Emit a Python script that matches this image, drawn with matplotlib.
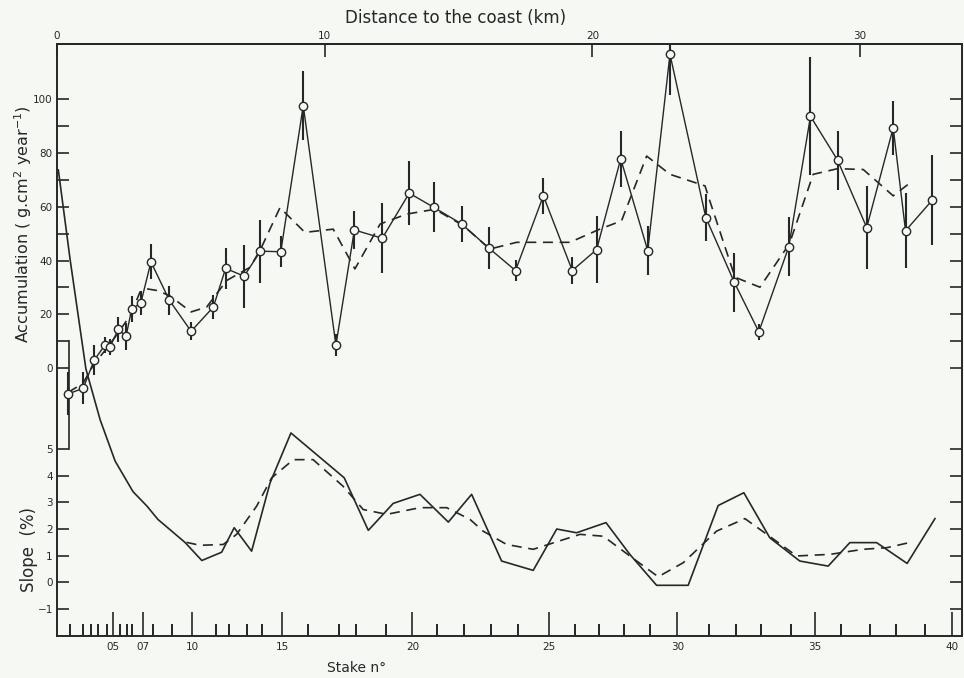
import matplotlib.pyplot as plt

plt.rcParams['font.family'] = ['DejaVu Sans']

# stake positions (km from the coast) with measured accumulation and error
dist_km = [0.42, 0.98, 1.39, 1.79, 1.98, 2.29, 2.58, 2.79, 3.13, 3.51, 4.20,
           5.01, 5.84, 6.30, 6.99, 7.60, 8.36, 9.20, 10.42, 11.11, 12.15,
           13.16, 14.08, 15.12, 16.14, 17.13, 18.17, 19.25, 20.16, 21.06, 22.07,
           22.90, 24.24, 25.30, 26.22, 27.34, 28.15, 29.16, 30.25, 31.24, 31.70, 32.70]
accum = [-9.6, -7.5, 3.0, 8.5, 7.9, 14.4, 11.9, 21.9, 24.2, 39.5, 25.2,
         13.7, 22.7, 37.1, 34.2, 43.5, 43.3, 97.7, 8.5, 51.4, 48.3,
         65.1, 59.8, 53.6, 44.6, 36.3, 64.1, 36.3, 44.1, 77.9, 43.7,
         116.8, 56.0, 32.0, 13.5, 45.2, 93.7, 77.4, 52.3, 89.4, 51.1, 62.5]
accum_err = [8, 6, 5.5, 3, 3, 4.6, 5, 4.8, 4.5, 6.5, 5.3,
             3.4, 4.6, 7.7, 11.7, 11.7, 5.8, 13, 4, 7, 13,
             11.8, 9.3, 6.7, 7.9, 4, 6.8, 5, 12.5, 10.5, 9,
             15, 8.6, 11, 3, 11, 22, 11, 15.6, 10, 14, 16.7]

# smoothed accumulation (dashed)
accum_smooth_km = [0.42, 0.97, 1.38, 1.79, 2.28, 2.76, 3.10, 3.35, 3.72, 4.20, 5.01,
                   5.59, 6.34, 7.21, 7.61, 8.33, 9.26, 10.32, 11.13, 12.07, 13.06,
                   14.12, 15.18, 16.17, 17.17, 18.17, 19.16, 20.28, 21.09, 22.03, 22.90,
                   24.21, 24.33, 25.33, 26.26, 27.36, 28.25, 29.16, 30.12, 31.24, 31.80]
accum_smooth = [-9.0, -5.7, 1.5, 6.5, 13, 20, 28.3, 29.5, 28.9, 27, 20.9,
                22.7, 32.6, 37.5, 44.3, 59.7, 50.5, 51.7, 36.9, 53.6, 57.3,
                59.1, 53, 44.3, 46.8, 46.8, 46.8, 51.7, 54.8, 78.9, 72.1,
                67.8, 64, 33.8, 30.1, 46.2, 72.1, 74.2, 73.9, 64.1, 68.4]

# surface slope (%)
slope_km = [0.05, 0.49, 1.08, 1.61, 2.17, 2.84, 3.36, 3.77, 4.78, 5.41, 6.15,
            6.62, 7.27, 7.96, 8.74, 10.73, 11.63, 12.56, 13.56, 14.62, 15.49,
            16.61, 17.79, 18.67, 19.41, 20.51, 21.40, 22.40, 23.58, 24.70, 25.66,
            26.63, 27.75, 28.81, 29.62, 30.62, 31.76, 32.80]
slope = [15.46, 12.1, 8.0, 6.1, 4.55, 3.4, 2.86, 2.36, 1.5, 0.82, 1.13,
         2.05, 1.17, 3.73, 5.6, 3.92, 1.95, 2.96, 3.3, 2.26, 3.3,
         0.8, 0.45, 2.0, 1.86, 2.24, 1.05, -0.11, -0.11, 2.88, 3.36,
         1.67, 0.8, 0.61, 1.49, 1.49, 0.71, 2.39]
slope_smooth_km = [4.84, 5.34, 6.21, 6.71, 7.46, 8.02, 8.83, 9.57, 10.69, 11.44, 12.32,
                   13.56, 14.56, 15.43, 15.92, 16.80, 17.79, 19.54, 20.41, 21.40, 22.46,
                   23.40, 24.64, 25.70, 26.70, 27.63, 28.88, 30.12, 31.00, 31.93]
slope_smooth = [1.5, 1.39, 1.42, 1.8, 2.86, 3.92, 4.6, 4.6, 3.6, 2.73, 2.55,
                2.8, 2.8, 2.36, 1.92, 1.42, 1.24, 1.8, 1.73, 0.99, 0.21,
                0.74, 1.92, 2.39, 1.67, 0.99, 1.05, 1.24, 1.3, 1.51]

# stake ticks on the bottom axis
stake_major_km = [2.10, 3.20, 5.06, 8.42, 13.28, 18.38, 23.18, 28.32, 33.45]
stake_major_labels = ['05', '07', '10', '15', '20', '25', '30', '35', '40']
stake_minor_km = [0.49, 0.98, 1.27, 1.52, 1.86, 2.35, 2.60, 2.81, 3.60, 4.31,
                  5.94, 6.43, 7.08, 7.64, 9.39, 10.52, 11.17, 12.29, 14.18, 15.20,
                  16.21, 17.24, 19.35, 20.25, 21.18, 22.15, 24.34, 25.36, 26.30, 27.42,
                  29.29, 30.37, 31.36, 32.42]
dist_ticks = [0, 10, 20, 30]

INK = '#272727'
BG = '#f6f8f4'
W, H = 964, 678

fig = plt.figure(figsize=(W / 100, H / 100), dpi=100, facecolor=BG)
ax = fig.add_axes([57 / W, 1 - 636 / H, 905 / W, 592 / H])
ax.set_facecolor(BG)
ax.set_xlim(0, 33.81)
acc_lim = (-99.7, 120.6)
slope_lim = (-2.01, 20.18)
ax.set_ylim(*acc_lim)

ax.errorbar(dist_km, accum, yerr=accum_err, fmt='none', ecolor=INK,
            elinewidth=1.5, capsize=0, zorder=2)
ax.plot(accum_smooth_km, accum_smooth, color=INK, lw=1.2, dashes=(6, 4), zorder=2)
ax.plot(dist_km, accum, color=INK, lw=1.0, marker='o', ms=6, mfc=BG,
        mec=INK, mew=1.0, zorder=3)

ax2 = ax.twinx()
ax2.set_ylim(*slope_lim)
ax2.plot(slope_km, slope, color=INK, lw=1.2)
ax2.plot(slope_smooth_km, slope_smooth, color=INK, lw=1.2, dashes=(6, 4))

# ticks
ax.set_yticks(range(0, 101, 20))
ax.set_yticks(range(10, 100, 20), minor=True)
ax.tick_params(axis='y', which='both', direction='in', left=True, right=True,
               length=8.5, width=1.2, labelsize=7.5, pad=3, colors=INK)
ax2.set_yticks(range(-1, 6))
ax2.tick_params(axis='y', direction='in', left=True, right=True, labelleft=True,
                labelright=False, length=8.5, width=1.2, labelsize=7.5, pad=3, colors=INK)

ax.set_xticks(stake_major_km)
ax.set_xticklabels(stake_major_labels)
ax.set_xticks(stake_minor_km, minor=True)
ax.tick_params(axis='x', which='major', direction='in', length=17, width=1.2,
               top=False, labelsize=7.5, pad=4, colors=INK)
ax.tick_params(axis='x', which='minor', direction='in', length=8.5, width=1.2, top=False)

top = ax.secondary_xaxis('top')
top.set_xticks(dist_ticks)
top.tick_params(direction='in', length=9, width=1.2, labelsize=7.5, pad=2, colors=INK)

for a in (ax, ax2):
    for sp in a.spines.values():
        sp.set_linewidth(1.2)
        sp.set_color(INK)
for sp in top.spines.values():
    sp.set_linewidth(1.2)

# bracket joining the two scales on the left
frac5 = (5 - slope_lim[0]) / (slope_lim[1] - slope_lim[0])
acc_at_slope5 = acc_lim[0] + frac5 * (acc_lim[1] - acc_lim[0])
ax.plot([0.45, 0.45], [10, acc_at_slope5], color=INK, lw=1.2, zorder=1)

fig.text(456 / W, 1 - 18 / H, 'Distance to the coast (km)', ha='center', va='center',
         fontsize=12, color=INK)
fig.text(357 / W, 1 - 668 / H, 'Stake n°', ha='center', va='center',
         fontsize=10, color=INK)
fig.text(23 / W, 1 - 224 / H, 'Accumulation ( g.cm$^{2}$ year$^{-1}$)', rotation=90,
         ha='center', va='center', fontsize=11.5, color=INK)
fig.text(29 / W, 1 - 549 / H, 'Slope  (%)', rotation=90, ha='center', va='center',
         fontsize=12, color=INK)

fig.savefig('out.png', dpi=100, facecolor=BG)
